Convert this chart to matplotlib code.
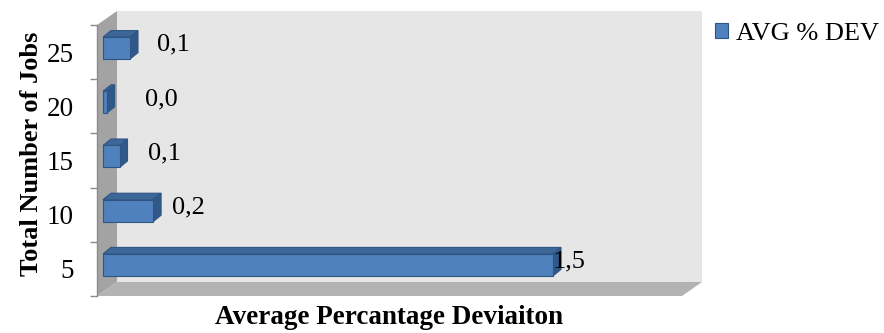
import matplotlib
matplotlib.use("Agg")
import matplotlib.pyplot as plt
from matplotlib.patches import Polygon

# ---- data ----
categories = ["5", "10", "15", "20", "25"]
avg_dev = [1.50, 0.167, 0.055, 0.012, 0.09]
series_name = "AVG % DEV"
x_title = "Average Percantage Deviaiton"
y_title = "Total Number of Jobs"
# horizontal nudge (points) of each value label from its bar end
label_nudge = [-6, 8, 15, 22, 14]

W, H, DPI = 884, 333, 100
FONT = "Liberation Serif"
FRONT = "#4F81BD"
TOP = "#3D6798"
SIDE = "#30598A"
EDGE = "#2F5585"
BACK_WALL = "#E6E6E6"
SIDE_WALL = "#A3A3A3"
FLOOR = "#B3B3B3"

fig = plt.figure(figsize=(W / DPI, H / DPI), dpi=DPI)
fig.patch.set_facecolor("white")

# front plane of the 3D box, in pixels
x0, x1, ytop, ybot = 97, 682, 25, 296
ax = fig.add_axes([x0 / W, 1 - ybot / H, (x1 - x0) / W, (ybot - ytop) / H])
ax.set_xlim(0, 1.95)
ax.set_ylim(-0.5, len(categories) - 0.5)
ax.set_facecolor("none")
for s in ax.spines.values():
    s.set_visible(False)
ax.set_xticks([])

# pixel -> data conversion
def px_to_data(dx_px, dy_px):
    p0 = ax.transData.transform((0, 0))
    p1 = ax.transData.transform((1, 1))
    return dx_px / (p1[0] - p0[0]), dy_px / (p1[1] - p0[1])

# box walls (depth offset 20 px right, 14 px up)
ddx, ddy = px_to_data(20, 14)
xl, xr = ax.get_xlim()
yb, yt = ax.get_ylim()
walls = [
    ([(xl + ddx, yb + ddy), (xr + ddx, yb + ddy), (xr + ddx, yt + ddy), (xl + ddx, yt + ddy)], BACK_WALL),
    ([(xl, yb), (xl + ddx, yb + ddy), (xl + ddx, yt + ddy), (xl, yt)], SIDE_WALL),
    ([(xl, yb), (xr, yb), (xr + ddx, yb + ddy), (xl + ddx, yb + ddy)], FLOOR),
]
for verts, col in walls:
    ax.add_patch(Polygon(verts, closed=True, facecolor=col, edgecolor="none",
                         zorder=0, clip_on=False))
ax.plot([xl, xl], [yb, yt], color="#8C8C8C", lw=1.0, zorder=1, clip_on=False)

# category ticks on the left edge
ax.set_yticks([i - 0.5 for i in range(len(categories) + 1)], minor=False)
ax.set_yticklabels([])
ax.tick_params(axis="y", which="major", length=5, width=1.0, color="#8C8C8C",
               direction="out")
ax.set_yticks(range(len(categories)), minor=True)
ax.set_yticklabels(categories, minor=True, fontfamily=FONT, fontsize=19.5)
ax.tick_params(axis="y", which="minor", length=0, pad=17)

# 3D bars: front face sits 6 px / 4 px into the box, depth 8 px / 6.5 px
fdx, fdy = px_to_data(6, 4)
bdx, bdy = px_to_data(8, 6.5)
bar_h = 22 / 54.2
ypos = list(range(len(categories)))
ax.barh([y + fdy for y in ypos], avg_dev, height=bar_h, left=fdx,
        color=FRONT, edgecolor=EDGE, linewidth=0.8, zorder=3, label=series_name)
for y, v, nudge in zip(ypos, avg_dev, label_nudge):
    yc = y + fdy
    lo, hi = yc - bar_h / 2, yc + bar_h / 2
    left, right = fdx, fdx + v
    top = [(left, hi), (right, hi), (right + bdx, hi + bdy), (left + bdx, hi + bdy)]
    side = [(right, lo), (right + bdx, lo + bdy), (right + bdx, hi + bdy), (right, hi)]
    ax.add_patch(Polygon(top, closed=True, facecolor=TOP, edgecolor=EDGE,
                         linewidth=0.8, zorder=2))
    ax.add_patch(Polygon(side, closed=True, facecolor=SIDE, edgecolor=EDGE,
                         linewidth=0.8, zorder=2))
    ax.annotate(f"{v:.1f}".replace(".", ","), xy=(right + bdx, yc + bdy / 2),
                xytext=(nudge, 0), textcoords="offset points",
                ha="left", va="center", fontfamily=FONT, fontsize=19,
                color="black", zorder=5)

# axis titles
fig.text(32 / W, 1 - 154 / H, y_title, rotation=90, ha="center", va="center",
         fontfamily=FONT, fontsize=19, fontweight="bold")
fig.text(389 / W, 1 - 318 / H, x_title, ha="center", va="center",
         fontfamily=FONT, fontsize=19.5, fontweight="bold")

# legend
handles, labels = ax.get_legend_handles_labels()
leg = fig.legend(handles, labels, loc="center left",
                 bbox_to_anchor=(715 / W, 1 - 34 / H),
                 frameon=False, handlelength=0.5, handleheight=0.5,
                 handletextpad=0.3, borderaxespad=0, borderpad=0,
                 prop={"family": FONT, "size": 19})

fig.savefig("out.png", dpi=DPI, facecolor="white")
